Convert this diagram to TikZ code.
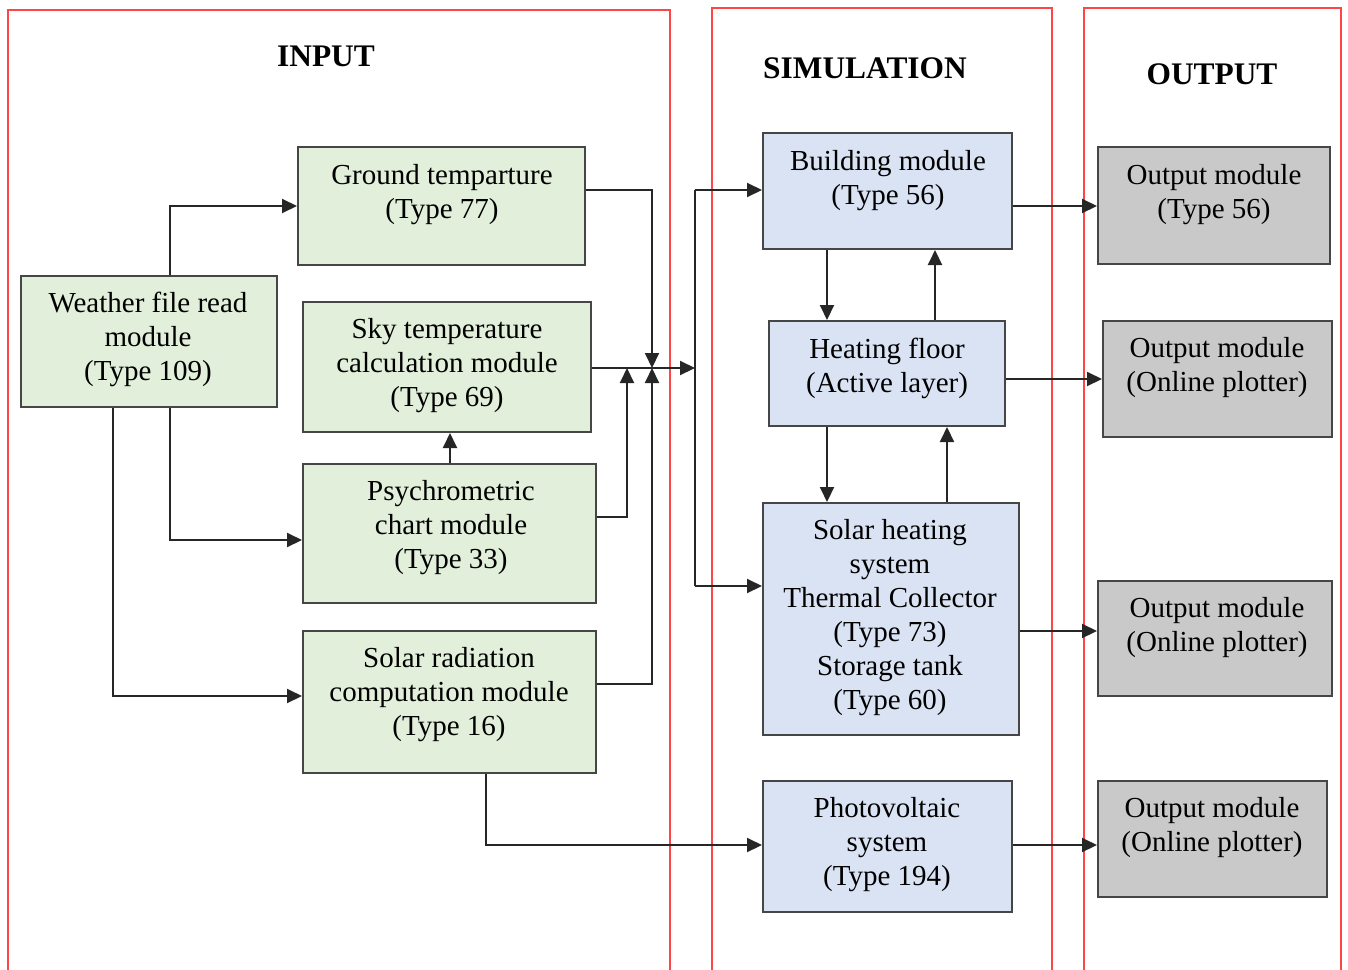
\documentclass[tikz,border=0pt]{standalone}
\usepackage{fontspec}
\setmainfont{Liberation Serif}
\usetikzlibrary{arrows.meta,fit}
\definecolor{panelred}{RGB}{255,70,70}
\definecolor{gfill}{RGB}{226,239,218}
\definecolor{bfill}{RGB}{218,227,243}
\definecolor{ofill}{RGB}{201,201,201}
\definecolor{boxline}{RGB}{70,70,70}
\tikzset{
  panel/.style={draw=panelred, line width=1pt},
  basebox/.style={draw=boxline, line width=1pt, inner sep=0pt},
  gbox/.style={basebox, fill=gfill},
  bbox/.style={basebox, fill=bfill},
  obox/.style={basebox, fill=ofill},
  txt/.style={align=center, inner sep=0pt, font=\fontsize{14.5}{17}\selectfont},
  ttl/.style={inner sep=0pt, font=\fontsize{15.7}{18}\selectfont\bfseries},
  arr/.style={draw=black!85, line width=1pt, -{Triangle[length=7.5pt,width=7pt]}},
  ln/.style={draw=black!85, line width=1pt},
}
\begin{document}
\begin{tikzpicture}[x=0.5pt,y=-0.5pt]
\useasboundingbox (0,0) rectangle (1348,969);
\clip (0,0) rectangle (1348,969);
% panels
\draw[panel] (8,990) -- (8,10) -- (670,10) -- (670,990);
\draw[panel] (712,990) -- (712,8) -- (1052,8) -- (1052,990);
\draw[panel] (1084,990) -- (1084,8) -- (1341,8) -- (1341,990);
\node[ttl] (tin) at (326,56) {INPUT};
\node[ttl] (tsim) at (865,68) {SIMULATION};
\node[ttl] (tout) at (1212,74) {OUTPUT};
% input boxes
\node[gbox, fit={(298,147) (585,265)}] (ground) {};
\node[txt] (groundt) at (442,195) {Ground temparture\\(Type 77)};
\node[gbox, fit={(21,276) (277,407)}] (weather) {};
\node[txt] (weathert) at (148,339) {Weather file read\\module\\(Type 109)};
\node[gbox, fit={(303,302) (591,432)}] (sky) {};
\node[txt] (skyt) at (447,366) {Sky temperature\\calculation module\\(Type 69)};
\node[gbox, fit={(303,464) (596,603)}] (psy) {};
\node[txt] (psyt) at (451,528) {Psychrometric\\chart module\\(Type 33)};
\node[gbox, fit={(303,631) (596,773)}] (srad) {};
\node[txt] (sradt) at (449,695) {Solar radiation\\computation module\\(Type 16)};
% simulation boxes
\node[bbox, fit={(763,133) (1012,249)}] (build) {};
\node[txt] (buildt) at (888,181) {Building module\\(Type 56)};
\node[bbox, fit={(769,321) (1005,426)}] (heat) {};
\node[txt] (heatt) at (887,368) {Heating floor\\(Active layer)};
\node[bbox, fit={(763,503) (1019,735)}] (solar) {};
\node[txt] (solart) at (890,618) {Solar heating\\system\\Thermal Collector\\(Type 73)\\Storage tank\\(Type 60)};
\node[bbox, fit={(763,781) (1012,912)}] (pv) {};
\node[txt] (pvt) at (887,845) {Photovoltaic\\system\\(Type 194)};
% output boxes
\node[obox, fit={(1098,147) (1330,264)}] (out1) {};
\node[txt] (out1t) at (1214,195) {Output module\\(Type 56)};
\node[obox, fit={(1103,321) (1332,437)}] (out2) {};
\node[txt] (out2t) at (1217,368) {Output module\\(Online plotter)};
\node[obox, fit={(1098,581) (1332,696)}] (out3) {};
\node[txt] (out3t) at (1217,628) {Output module\\(Online plotter)};
\node[obox, fit={(1098,781) (1327,897)}] (out4) {};
\node[txt] (out4t) at (1212,828) {Output module\\(Online plotter)};
% junction coordinates
\coordinate (busT) at (695,190);
\coordinate (busB) at (695,586);
% input connectors
\draw[arr] (weather.north -| 170,0) |- (ground.west |- 0,206);
\draw[arr] (weather.south -| 170,0) |- (psy.west |- 0,540);
\draw[arr] (weather.south -| 113,0) |- (srad.west |- 0,696);
\draw[arr] (psy.north -| 450,0) -- (sky.south -| 450,0);
\draw[arr] (ground.east |- 0,190) -| (652,368);
\draw[arr] (psy.east |- 0,517) -| (627,368);
\draw[arr] (srad.east |- 0,684) -| (652,368);
\draw[arr] (sky.east |- 0,368) -- (busT |- 0,368);
\draw[ln] (busT) -- (busB);
\draw[arr] (busT) -- (build.west |- busT);
\draw[arr] (busB) -- (solar.west |- busB);
\draw[arr] (srad.south -| 486,0) |- (pv.west |- 0,845);
% simulation connectors
\draw[arr] (build.south -| 827,0) -- (heat.north -| 827,0);
\draw[arr] (heat.north -| 935,0) -- (build.south -| 935,0);
\draw[arr] (heat.south -| 827,0) -- (solar.north -| 827,0);
\draw[arr] (solar.north -| 947,0) -- (heat.south -| 947,0);
% outputs
\draw[arr] (build.east |- 0,206) -- (out1.west |- 0,206);
\draw[arr] (heat.east |- 0,379) -- (out2.west |- 0,379);
\draw[arr] (solar.east |- 0,631) -- (out3.west |- 0,631);
\draw[arr] (pv.east |- 0,845) -- (out4.west |- 0,845);
\end{tikzpicture}
\end{document}
